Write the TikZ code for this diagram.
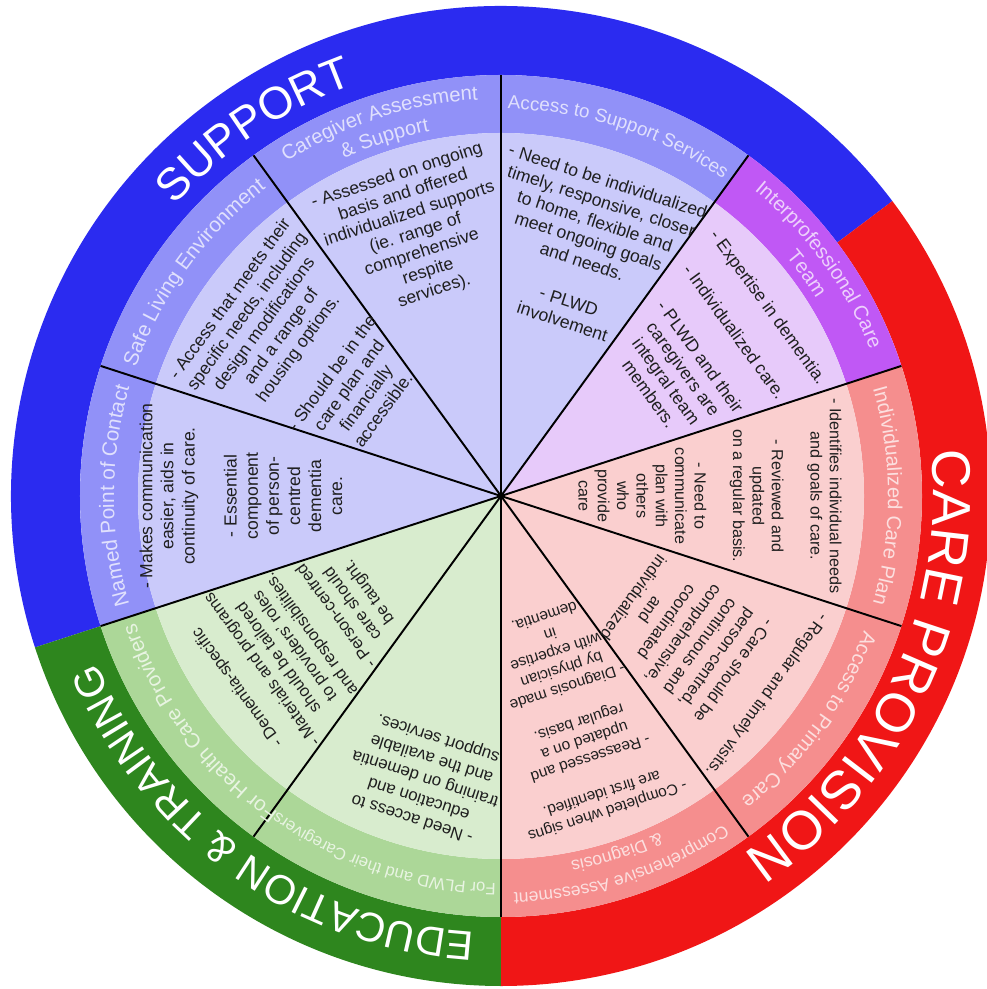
\documentclass[tikz,border=0pt]{standalone}
\usepackage{fontspec}
\setmainfont{Liberation Sans}
\usetikzlibrary{decorations.text}

% ring colours: outer band, title band, text wedge
\definecolor{supouter}{RGB}{43,43,240}
\definecolor{supmid}{RGB}{145,145,248}
\definecolor{supin}{RGB}{202,202,250}
\definecolor{iptmid}{RGB}{192,88,245}
\definecolor{iptin}{RGB}{231,202,250}
\definecolor{careouter}{RGB}{240,22,22}
\definecolor{caremid}{RGB}{245,142,142}
\definecolor{carein}{RGB}{250,207,207}
\definecolor{eduouter}{RGB}{46,134,30}
\definecolor{edumid}{RGB}{172,215,152}
\definecolor{eduin}{RGB}{216,236,206}
\colorlet{suplabel}{white!72!supmid}
\colorlet{iptlabel}{white!72!iptmid}
\colorlet{carelabel}{white!72!caremid}
\colorlet{edulabel}{white!72!edumid}

\begin{document}
\begin{tikzpicture}[x=0.2mm,y=0.2mm,
  spoke/.style={line width=1.1pt,black},
  blurb/.style={align=center,inner sep=0pt,text=black!88,font=\fontsize{10}{12}\selectfont},
  ringlabel/.style={decorate,decoration={text along path,text align=center,text color=white}},
  bandlabel/.style={decorate,decoration={text along path,text align=center,text color=#1}}]
\useasboundingbox (-501,-493) rectangle (485,496);

% outer ring
\fill[supouter] (37:490) arc[start angle=37,end angle=198,radius=490] -- (198:421) arc[start angle=198,end angle=37,radius=421] -- cycle;
\fill[eduouter] (198:490) arc[start angle=198,end angle=270,radius=490] -- (270:421) arc[start angle=270,end angle=198,radius=421] -- cycle;
\fill[careouter] (-90:490) arc[start angle=-90,end angle=37,radius=490] -- (37:421) arc[start angle=37,end angle=-90,radius=421] -- cycle;

% title band and wedge of every segment
\foreach \a/\band/\core in {54/supmid/supin, 90/supmid/supin, 126/supmid/supin, 162/supmid/supin,
    18/iptmid/iptin, -18/caremid/carein, -54/caremid/carein, -90/caremid/carein,
    198/edumid/eduin, 234/edumid/eduin}{
  \fill[\band] (\a:421) arc[start angle=\a,end angle=\a+36,radius=421] -- ({\a+36}:363) arc[start angle=\a+36,end angle=\a,radius=363] -- cycle;
  \fill[\core] (0,0) -- (\a:363) arc[start angle=\a,end angle=\a+36,radius=363] -- cycle;
}

\foreach \a in {90,126,...,414}
  \draw[spoke] (0,0) -- (\a:421);

% category names
\path[ringlabel,decoration={text={|\fontsize{25.8}{30}\selectfont|SUPPORT}}] (164:437) arc[start angle=164,end angle=84,radius=437];
\path[ringlabel,decoration={text={|\fontsize{30.9}{36}\selectfont|CARE PROVISION}}] (25:432) arc[start angle=25,end angle=-75,radius=432];
\path[ringlabel,decoration={text={|\fontsize{23.4}{28}\selectfont|EDUCATION {\&} TRAINING}}] (275:437) arc[start angle=275,end angle=194,radius=437];

% segment titles
\path[bandlabel=suplabel,decoration={text={|\fontsize{10.7}{13}\selectfont|Access to Support Services}}] (100:387) arc[start angle=100,end angle=44,radius=387];
\path[bandlabel=iptlabel,decoration={text={|\fontsize{11.5}{13}\selectfont|Interprofessional Care}}] (64:397) arc[start angle=64,end angle=8,radius=397];
\path[bandlabel=iptlabel,decoration={text={|\fontsize{11.5}{13}\selectfont|Team}}] (56:372) arc[start angle=56,end angle=16,radius=372];
\path[bandlabel=carelabel,decoration={text={|\fontsize{11.5}{13}\selectfont|Individualized Care Plan}}] (28:387) arc[start angle=28,end angle=-28,radius=387];
\path[bandlabel=carelabel,decoration={text={|\fontsize{11.5}{13}\selectfont|Access to Primary Care}}] (-8:387) arc[start angle=-8,end angle=-64,radius=387];
\path[bandlabel=carelabel,decoration={text={|\fontsize{10}{12}\selectfont|Comprehensive Assessment}}] (-44:397) arc[start angle=-44,end angle=-100,radius=397];
\path[bandlabel=carelabel,decoration={text={|\fontsize{10}{12}\selectfont|{\&} Diagnosis}}] (-52:372) arc[start angle=-52,end angle=-92,radius=372];
\path[bandlabel=edulabel,decoration={text={|\fontsize{9.5}{12}\selectfont|For PLWD and their Caregivers}}] (280:387) arc[start angle=280,end angle=224,radius=387];
\path[bandlabel=edulabel,decoration={text={|\fontsize{11.8}{13}\selectfont|For Health Care Providers}}] (245:387) arc[start angle=245,end angle=189,radius=387];
\path[bandlabel=suplabel,decoration={text={|\fontsize{11.8}{13}\selectfont|Named Point of Contact}}] (208:387) arc[start angle=208,end angle=152,radius=387];
\path[bandlabel=suplabel,decoration={text={|\fontsize{11.8}{13}\selectfont|Safe Living Environment}}] (172:387) arc[start angle=172,end angle=116,radius=387];
\path[bandlabel=suplabel,decoration={text={|\fontsize{11.5}{13}\selectfont|Caregiver Assessment}}] (136:397) arc[start angle=136,end angle=80,radius=397];
\path[bandlabel=suplabel,decoration={text={|\fontsize{11.5}{13}\selectfont|{\&} Support}}] (128:372) arc[start angle=128,end angle=88,radius=372];

% wedge texts
\node at (108:276) [blurb,rotate=18,font=\fontsize{10}{11.5}\selectfont] (cas) {- Assessed on ongoing\\ basis and offered\\ individualized supports\\ (ie. range of\\ comprehensive\\ respite\\ services).};
\node at (71:259) [blurb,rotate=-18] (ass) {- Need to be individualized\\ timely, responsive, closer\\ to home, flexible and\\ meet ongoing goals\\ and needs.\\[12pt] - PLWD\\ involvement};
\node at (35:254) [blurb,rotate=-54] (ipt) {- Expertise in dementia.\\[12pt] - Individualized care.\\[12pt] - PLWD and their\\ caregivers are\\ integral team\\ members.};
\node at (0:209) [blurb,rotate=-90,font=\fontsize{9.2}{11}\selectfont] (icp) {- Identifies individual needs\\ and goals of care.\\[11pt] - Reviewed and\\ updated\\ on a regular basis.\\[11pt] - Need to\\ communicate\\ plan with\\ others\\ who\\ provide\\ care};
\node at (-37:250) [blurb,rotate=-126,font=\fontsize{9.5}{11.8}\selectfont] (apc) {- Regular and timely visits.\\[11.8pt] - Care should be\\ person-centred,\\ continuous and\\ comprehensive,\\ coordinated\\ and\\ individualized};
\node at (-71:231) [blurb,rotate=-162,font=\fontsize{8.8}{10.6}\selectfont] (cad) {- Completed when signs\\ are first identified.\\[10.6pt] - Reassessed and\\ updated on a\\ regular basis.\\[10.6pt] - Diagnosis made\\ by physician\\ with expertise\\ in\\ dementia.};
\node at (-105:292) [blurb,rotate=162,font=\fontsize{9.6}{12}\selectfont] (plw) {- Need access to\\ education and\\ training on dementia\\ and the available\\ support services.};
\node at (216:244) [blurb,rotate=126,font=\fontsize{9.5}{11.5}\selectfont] (hcp) {- Dementia-specific\\[6pt] - Materials and programs\\ should be tailored\\ to providers' roles\\ and responsibilities.\\[6pt] - Person-centred\\ care should\\ be taught.};
\node at (180:260) [blurb,rotate=90] (npc) {- Makes communication\\ easier, aids in\\ continuity of care.\\[12pt] - Essential\\ component\\ of person-\\ centred\\ dementia\\ care.};
\node at (144:241) [blurb,rotate=54] (sle) {- Access that meets their\\ specific needs, including\\ design modifications\\ and a range of\\ housing options.\\[12pt] - Should be in the\\ care plan and\\ financially\\ accessible.};
\end{tikzpicture}
\end{document}
